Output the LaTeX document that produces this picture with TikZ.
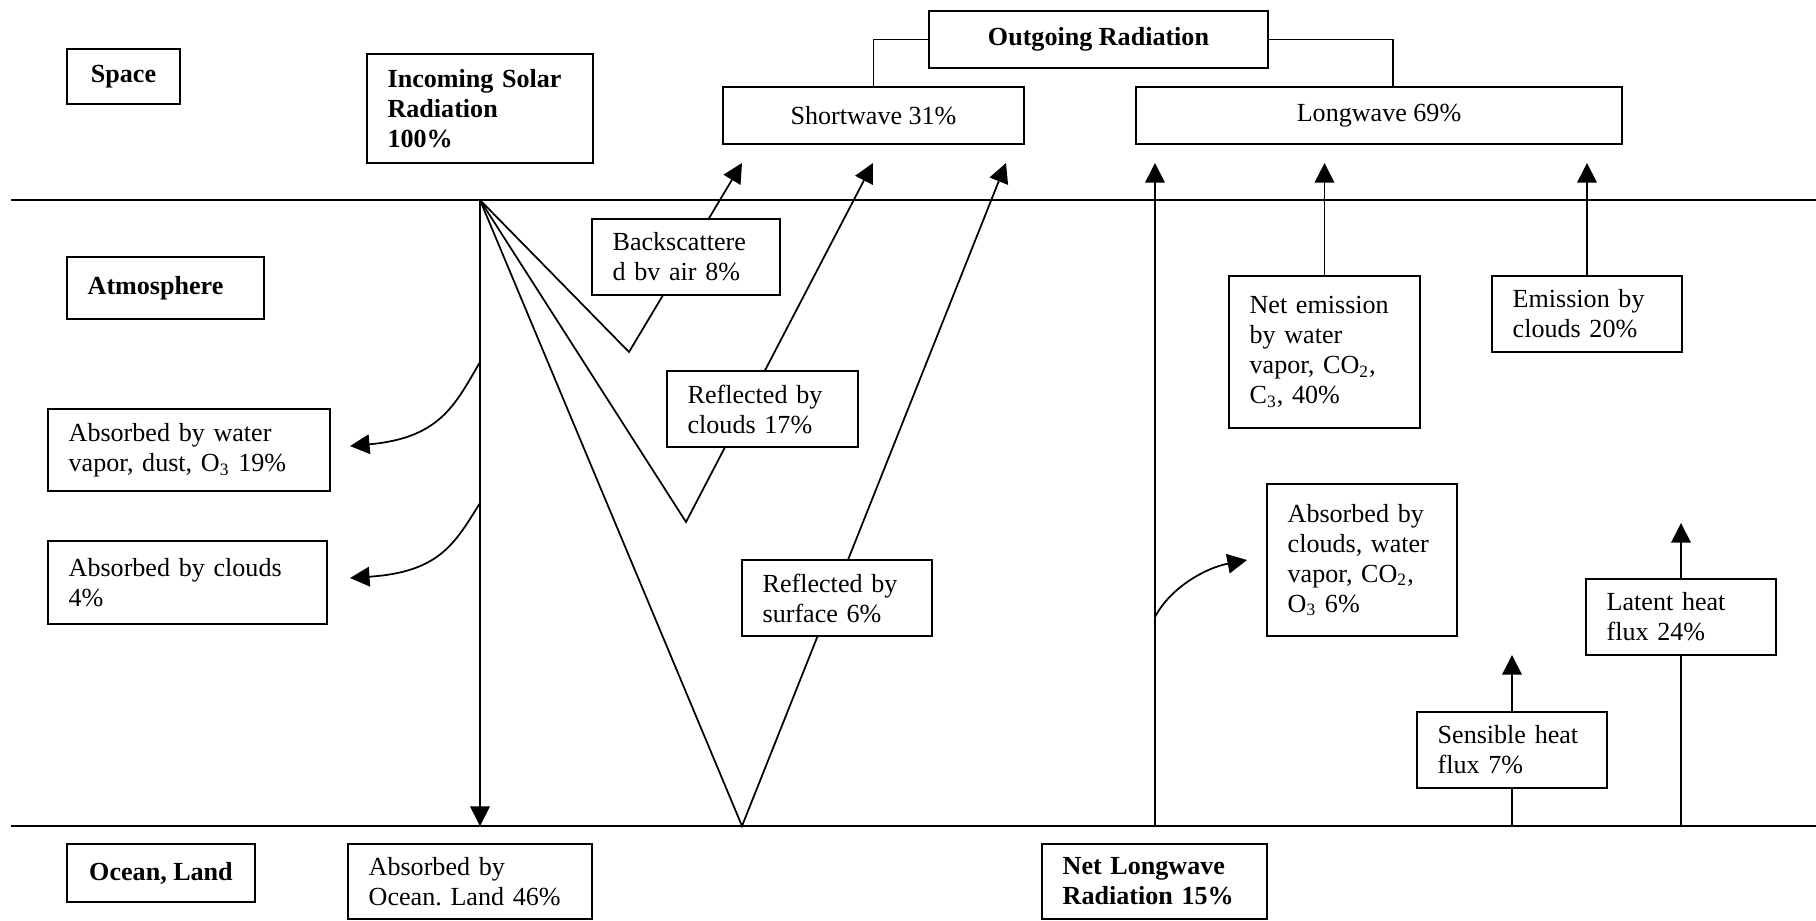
\documentclass[tikz,border=0pt]{standalone}
\usepackage{fontspec}
\setmainfont{Liberation Serif}
\usetikzlibrary{arrows.meta}
\usetikzlibrary{calc}
\usetikzlibrary{backgrounds}
\frenchspacing

\tikzset{
  tbox/.style={draw,fill=white,line width=0.8pt,inner xsep=9.5pt,inner ysep=1pt,align=left,
    font=\fontsize{12}{13.8}\selectfont},
  hbox/.style={tbox,font=\fontsize{12}{13.8}\selectfont\bfseries},
  flow/.style={line width=0.8pt},
  arr/.style={flow,-{Triangle[length=9pt,width=9pt]}}
}

\begin{document}
\begin{tikzpicture}[x=0.46pt,y=-0.46pt]
                \useasboundingbox (0,0) rectangle (1816,920);

                % Space
                \node[hbox,minimum width=52pt,minimum height=25.3pt] (space) at (123.5,76.5) {Space};
                \node[hbox,text width=85pt,minimum height=50.1pt] (incoming) at (480,108.5) {Incoming Solar\\Radiation\\100\%};
                \node[hbox,minimum width=156pt,minimum height=26.2pt] (outgoing) at (1098.5,39.5) {Outgoing Radiation};
                \node[tbox,minimum width=138.5pt,minimum height=26.2pt] (shortwave) at (873.5,115.5) {Shortwave 31\%};
                \node[tbox,minimum width=223.6pt,minimum height=26.2pt] (longwave) at (1379,115.5) {Longwave 69\%};

                % Atmosphere
                \node[hbox,text width=71.6pt,minimum height=28.5pt] (atmos) at (165.5,288) {Atmosphere};
                \node[tbox,text width=67.5pt,minimum height=35pt] (backscat) at (686,257) {Backscattere\\d bv air 8\%};
                \node[tbox,text width=68.9pt,minimum height=35pt] (reflcloud) at (762.5,409) {Reflected by\\clouds 17\%};
                \node[tbox,text width=68.4pt,minimum height=35pt] (reflsurf) at (837,598) {Reflected by\\surface 6\%};
                \node[tbox,text width=110.7pt,minimum height=37.7pt] (abswater) at (189,450) {Absorbed by water\\vapor, dust, O\textsubscript{3} 19\%};
                \node[tbox,text width=109.3pt,minimum height=38.2pt] (absclouds) at (187.5,582.5) {Absorbed by clouds\\4\%};
                \node[tbox,text width=68.9pt,minimum height=69.9pt] (netemis) at (1324.5,352) {Net emission\\by water\\vapor, CO\textsubscript{2},\\C\textsubscript{3}, 40\%};
                \node[tbox,text width=68.4pt,minimum height=35pt] (emiscloud) at (1587,314) {Emission by\\clouds 20\%};
                \node[tbox,text width=68.4pt,minimum height=69.9pt] (abslong) at (1362,560) {Absorbed by\\clouds, water\\vapor, CO\textsubscript{2},\\O\textsubscript{3} 6\%};
                \node[tbox,text width=68.4pt,minimum height=35pt] (latent) at (1681,617) {Latent heat\\flux 24\%};
                \node[tbox,text width=68.4pt,minimum height=35pt] (sensible) at (1512,750) {Sensible heat\\flux 7\%};

                % Ocean, Land
                \node[hbox,minimum width=86.5pt,minimum height=26.7pt] (ocean) at (161,873) {Ocean, Land};
                \node[tbox,text width=93.2pt,minimum height=34.5pt] (absocean) at (470,881.5) {Absorbed by\\Ocean. Land 46\%};
                \node[hbox,text width=84.5pt,minimum height=34.5pt] (netlong) at (1154.5,881.5) {Net Longwave\\Radiation 15\%};

                \coordinate (tl) at (11,200);
                \coordinate (tr) at (1816,200);
                \coordinate (bl) at (11,826);
                \coordinate (br) at (1816,826);
                \coordinate (sun) at (480,200);
                \coordinate (gnd) at (480,826);
                \coordinate (v1) at (629,352);
                \coordinate (v2) at (686,522);
                \coordinate (v3) at (742,826);
                \coordinate (s1) at (742,163);
                \coordinate (s2) at (873,163);
                \coordinate (s3) at (1006,163);
                \coordinate (lwg) at (1155,826);
                \coordinate (l1) at (1155,163);
                \coordinate (l2) at (1324.5,163);
                \coordinate (l3) at (1587,163);
                \coordinate (c1) at (480,362);
                \coordinate (c1e) at (350,446);
                \coordinate (c2) at (480,503);
                \coordinate (c2e) at (350,578);
                \coordinate (c3) at (1155,617);
                \coordinate (c3e) at (1247,560);
                \coordinate (sh) at (1512,826);
                \coordinate (sht) at (1512,655);
                \coordinate (la) at (1681,826);
                \coordinate (lat) at (1681,523);

                \begin{scope}[on background layer]
                % layer lines
                \draw[flow](tl)--(tr);
                \draw[flow](bl)--(br);

                % shortwave
                \draw[arr](sun)--(gnd);
                \draw[arr](sun)--(v1)--(s1);
                \draw[arr](sun)--(v2)--(s2);
                \draw[arr](sun)--(v3)--(s3);
                \draw[arr](c1) .. controls (455,405) and (440,438) .. (c1e);
                \draw[arr](c2) .. controls (455,543) and (440,572) .. (c2e);

                % longwave
                \draw[arr](lwg)--(l1);
                \draw[arr](c3) .. controls (1170,588) and (1205,568) .. (c3e);
                \draw[arr](netemis.north)--(l2);
                \draw[arr](emiscloud.north)--(l3);
                \draw[flow](sh)--(sensible.south);
                \draw[arr](sensible.north)--(sht);
                \draw[flow](la)--(latent.south);
                \draw[arr](latent.north)--(lat);

                \draw[flow](outgoing.west)-|(shortwave.north);
                \draw[flow](outgoing.east)-|($(longwave.north)+(14,0)$);
                \end{scope}

            \end{tikzpicture}
\end{document}
